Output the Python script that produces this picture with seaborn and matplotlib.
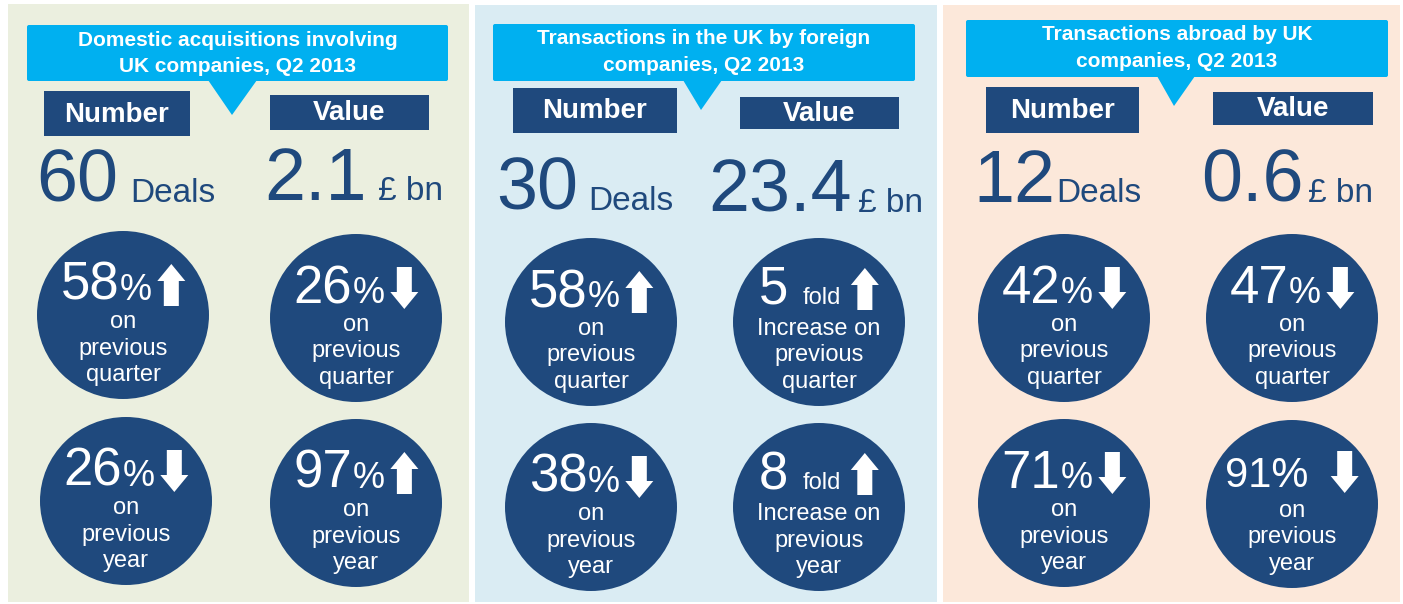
import matplotlib
matplotlib.use("Agg")
import matplotlib.pyplot as plt
import matplotlib.patches as mpatches
import seaborn as sns

panel_titles = ["Domestic acquisitions involving\nUK companies, Q2 2013",
                "Transactions in the UK by foreign\ncompanies, Q2 2013",
                "Transactions abroad by UK\ncompanies, Q2 2013"]
deal_numbers = ["60", "30", "12"]
deal_values = ["2.1", "23.4", "0.6"]
number_q_change = ["58", "58", "42"]
number_q_dir = ["up", "up", "down"]
value_q_change = ["26", "5", "47"]
value_q_dir = ["down", "up", "down"]
number_y_change = ["26", "38", "71"]
number_y_dir = ["down", "down", "down"]
value_y_change = ["97", "8", "91"]
value_y_dir = ["up", "up", "down"]
value_units = ["%", "fold", "%"]
value_captions = ["on", "Increase on", "on"]

# colours
panel_bg = ["#EBEFDF", "#DAECF3", "#FCE8DA"]
navy = "#1F497D"
cyan = "#00B0F0"

sns.set_theme(style="white")
plt.rcParams['font.family'] = ['Liberation Sans', 'DejaVu Sans']

W, H = 1403, 604
fig = plt.figure(figsize=(W / 100, H / 100), dpi=100)
ax = fig.add_axes([0, 0, 1, 1])
ax.set_xlim(0, W)
ax.set_ylim(H, 0)
ax.axis('off')
renderer = fig.canvas.get_renderer()

# layout (pixels)
panels = [(8, 4, 469, 602), (475, 5, 937, 602), (943, 5, 1400, 602)]
headers = [(27, 25, 448, 81), (493, 24, 915, 81), (966, 20, 1388, 77)]
pointers = [(208, 257, 232, 115), (683, 722, 701, 110), (1157, 1195, 1174, 106)]
num_boxes = [(44, 91, 190, 136), (513, 88, 677, 133), (986, 87, 1139, 133)]
val_boxes = [(270, 95, 429, 130), (740, 97, 899, 129), (1213, 92, 1373, 125)]
big_pos = [((36, 130, 202), (264, 378, 200)),
           ((496, 588, 210), (708, 858, 212)),
           ((973, 1056, 202), (1201, 1308, 202))]
circles = [[(123, 315), (356, 318), (126, 501), (356, 503)],
           [(591, 322), (819, 322), (591, 507), (819, 507)],
           [(1064, 318), (1292, 318), (1064, 503), (1292, 504)]]


def rect(box, color, z=1, pad=0.0):
    x0, y0, x1, y1 = box
    if pad > 0:
        p = mpatches.FancyBboxPatch((x0, y0), x1 - x0, y1 - y0,
                                    boxstyle=f"round,pad=0,rounding_size={pad}",
                                    fc=color, ec='none', zorder=z)
    else:
        p = mpatches.Rectangle((x0, y0), x1 - x0, y1 - y0, fc=color, ec='none', zorder=z)
    ax.add_patch(p)


def arrow(x, base, direction, w=28, sw=15, hh=17, top_off=36, bot_off=6):
    top, bot = base - top_off, base + bot_off
    c = x + w / 2
    if direction == "up":
        pts = [(c, top), (x + w, top + hh), (c + sw / 2, top + hh), (c + sw / 2, bot),
               (c - sw / 2, bot), (c - sw / 2, top + hh), (x, top + hh)]
    else:
        pts = [(c, bot), (x + w, bot - hh), (c + sw / 2, bot - hh), (c + sw / 2, top),
               (c - sw / 2, top), (c - sw / 2, bot - hh), (x, bot - hh)]
    ax.add_patch(mpatches.Polygon(pts, closed=True, fc='white', ec='none', zorder=5))


def headline(cx, base, parts, direction, arrow_gap):
    # parts: list of (text, size, gap_after)
    texts, total = [], 0
    for s, size, gap in parts:
        t = ax.text(0, base, s, fontsize=size, color='white', ha='left',
                    va='baseline', zorder=5)
        w = t.get_window_extent(renderer).width
        texts.append((t, w, gap))
        total += w + gap
    total += arrow_gap + 28
    x = cx - total / 2
    for t, w, gap in texts:
        t.set_x(x)
        x += w + gap
    arrow(x + arrow_gap, base, direction)


def stat_circle(cx, cy, value, unit, direction, first_line, when):
    ax.add_patch(mpatches.Ellipse((cx, cy), 172, 168, fc=navy, ec='none', zorder=4))
    base = cy - 15
    if unit == "fold":
        headline(cx, base - 3, [(value, 38, 14), ("fold", 17, 0)], direction, 10)
    elif value == "91":
        headline(cx, base - 2, [(value + "%", 30, 0)], direction, 22)
    else:
        headline(cx, base, [(value, 38, 0), ("%", 26, 0)], direction, 6)
    for i, line in enumerate([first_line, "previous", when]):
        ax.text(cx, cy + 13 + 26.5 * i, line, fontsize=17, color='white',
                ha='center', va='baseline', zorder=5)


for p in range(3):
    rect(panels[p], panel_bg[p], z=0)
    rect(headers[p], cyan, z=2, pad=2)
    bx0, bx1, tx, ty = pointers[p]
    hy = headers[p][3]
    ax.add_patch(mpatches.Polygon([(bx0, hy - 1), (bx1, hy - 1), (tx, ty)],
                                  closed=True, fc=cyan, ec='none', zorder=3))
    hx = (headers[p][0] + headers[p][2]) / 2
    for i, line in enumerate(panel_titles[p].split("\n")):
        ax.text(hx, headers[p][1] + 15 + 26.5 * i, line, fontsize=15,
                fontweight='bold', color='white', ha='center', va='center', zorder=4)

    for box, label in [(num_boxes[p], "Number"), (val_boxes[p], "Value")]:
        rect(box, navy, z=2)
        ax.text((box[0] + box[2]) / 2, (box[1] + box[3]) / 2 + 1, label,
                fontsize=20, fontweight='bold', color='white', ha='center',
                va='center', zorder=4)

    (nx, nux, nb), (vx, vux, vb) = big_pos[p]
    ax.text(nx, nb, deal_numbers[p], fontsize=53, color=navy, ha='left', va='baseline')
    ax.text(nux, nb, "Deals", fontsize=24, color=navy, ha='left', va='baseline')
    ax.text(vx, vb, deal_values[p], fontsize=53, color=navy, ha='left', va='baseline')
    ax.text(vux, vb, "£ bn", fontsize=24, color=navy, ha='left', va='baseline')

    c = circles[p]
    stat_circle(*c[0], number_q_change[p], "%", number_q_dir[p], "on", "quarter")
    stat_circle(*c[1], value_q_change[p], value_units[p], value_q_dir[p],
                value_captions[p], "quarter")
    stat_circle(*c[2], number_y_change[p], "%", number_y_dir[p], "on", "year")
    stat_circle(*c[3], value_y_change[p], value_units[p], value_y_dir[p],
                value_captions[p], "year")

fig.savefig("out.png", dpi=100, facecolor='white')
